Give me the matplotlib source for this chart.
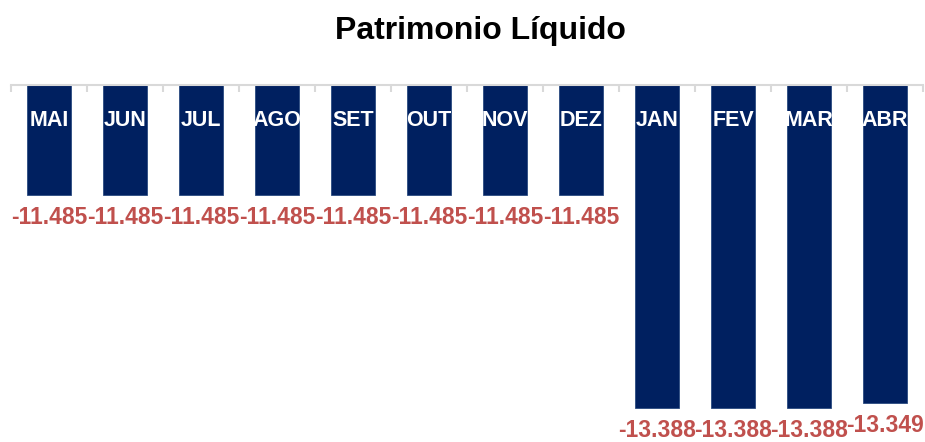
import numpy as np
import matplotlib
matplotlib.use("Agg")
import matplotlib.pyplot as plt

# dados
meses = ["MAI", "JUN", "JUL", "AGO", "SET", "OUT", "NOV", "DEZ", "JAN", "FEV", "MAR", "ABR"]
valores = [-11.485, -11.485, -11.485, -11.485, -11.485, -11.485, -11.485, -11.485,
           -13.388, -13.388, -13.388, -13.349]
rotulos = ["-11.485", "-11.485", "-11.485", "-11.485", "-11.485", "-11.485", "-11.485", "-11.485",
           "-13.388", "-13.388", "-13.388", "-13.349"]
base = -10.5

plt.rcParams['font.family'] = ['Liberation Sans', 'DejaVu Sans']

fig = plt.figure(figsize=(9.25, 4.42), dpi=100)
ax = fig.add_axes([11/925, 0, 912/925, 1 - 84.5/442])

x = np.arange(len(meses))
alturas = [v - base for v in valores]
ax.bar(x, alturas, bottom=base, width=0.58, color="#002060", edgecolor="#2a4a80", linewidth=0.6)

ax.set_xlim(-0.5, len(meses) - 0.5)
ax.set_ylim(-13.695, base)

for i, (m, v, r) in enumerate(zip(meses, valores, rotulos)):
    ax.text(i, base - 0.32, m, ha="center", va="center", color="white",
            fontsize=15.5, fontweight="bold")
    # rotulo logo abaixo da barra
    ax.annotate(r, (i, v), xytext=(0, -8), textcoords="offset points",
                ha="center", va="top", color="#C0504D", fontsize=16.5,
                fontweight="bold", annotation_clip=False)

for s in ["left", "right", "bottom"]:
    ax.spines[s].set_visible(False)
ax.spines["top"].set_color("#D9D9D9")
ax.spines["top"].set_linewidth(1.5)
ax.set_yticks([])
ax.xaxis.tick_top()
ax.set_xticks(np.arange(len(meses) + 1) - 0.5)
ax.set_xticklabels([])
ax.tick_params(axis="x", direction="in", length=5, width=1.5, color="#D9D9D9")

fig.text(480/925, 1 - 31/442, "Patrimonio Líquido", ha="center", va="center",
         fontsize=23, fontweight="bold")

fig.savefig("out.png", dpi=100)
